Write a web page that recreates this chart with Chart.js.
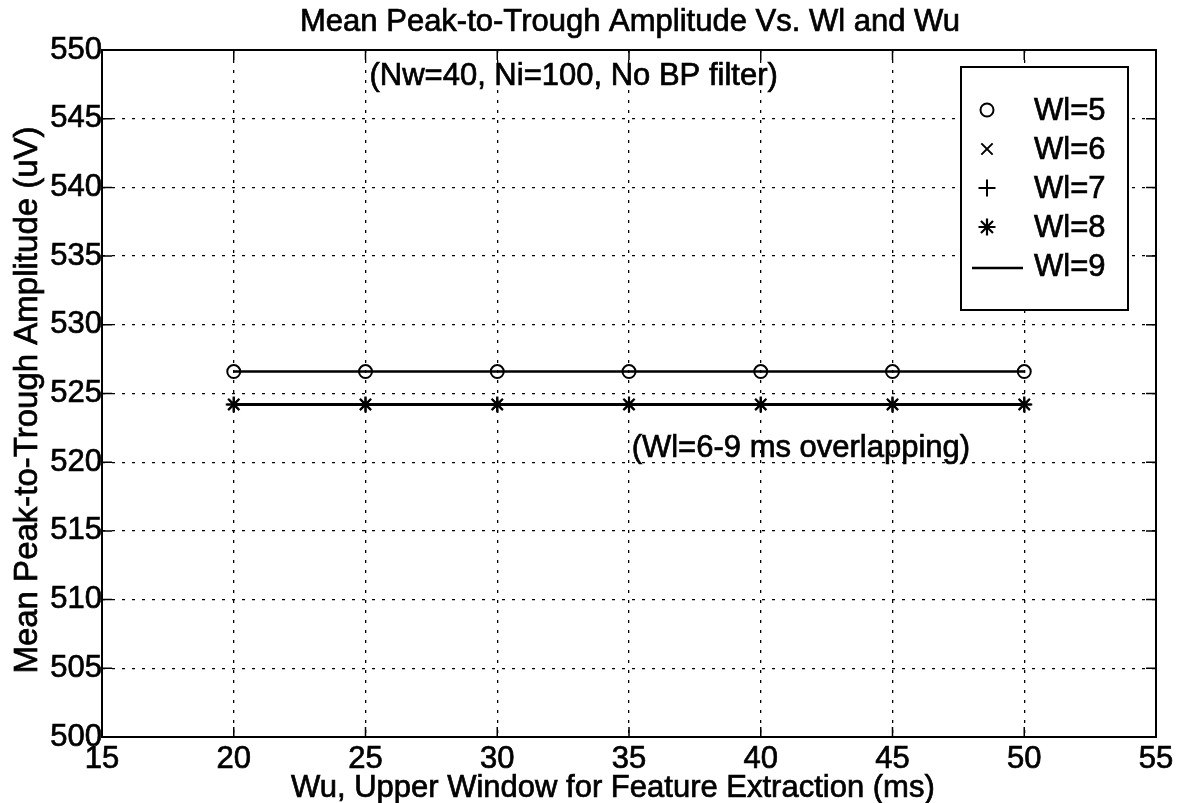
<!DOCTYPE html>
<html>
<head>
<meta charset="utf-8">
<script src="https://cdn.jsdelivr.net/npm/chart.js@4/dist/chart.umd.min.js"></script>
<style>
  body { margin: 0; background: #fff; }
  #wrap { width: 1186px; height: 803px; }
</style>
</head>
<body>
<div id="wrap"><canvas id="myChart" width="1186" height="803"></canvas></div>
<script>
// Wu values (ms) and mean peak-to-trough amplitude (uV) for each Wl
let wu = [20, 25, 30, 35, 40, 45, 50]
let wl5 = [526.6, 526.6, 526.6, 526.6, 526.6, 526.6, 526.6]
let wl6 = [524.2, 524.2, 524.2, 524.2, 524.2, 524.2, 524.2]
let wl7 = [524.2, 524.2, 524.2, 524.2, 524.2, 524.2, 524.2]
let wl8 = [524.2, 524.2, 524.2, 524.2, 524.2, 524.2, 524.2]
let wl9 = [524.2, 524.2, 524.2, 524.2, 524.2, 524.2, 524.2]

let xTicks = [15, 20, 25, 30, 35, 40, 45, 50, 55]
let yTicks = [500, 505, 510, 515, 520, 525, 530, 535, 540, 545, 550]

const FONT = '"Liberation Sans", Arial, Helvetica, sans-serif'
const INK = 0.7 // a little stroke so the text looks heavier

function pts(ys) {
    return wu.map((x, i) => ({ x: x, y: ys[i] }))
}

function serie(label, ys, style, r, bw) {
    return {
        label: label,
        data: pts(ys),
        borderColor: '#000',
        backgroundColor: 'rgba(0,0,0,0)',
        pointBorderColor: '#000',
        pointBackgroundColor: 'rgba(0,0,0,0)',
        borderWidth: 2.5,
        pointBorderWidth: bw,
        pointStyle: style,
        pointRadius: r,
        showLine: true,
        fill: false
    }
}

function txt(ctx, s, x, y) {
    ctx.fillText(s, x, y)
    ctx.lineWidth = INK
    ctx.strokeText(s, x, y)
}

// text, legend, box and inward ticks
let extras = {
    id: 'extras',
    afterDraw(chart) {
        let ctx = chart.ctx
        let a = chart.chartArea
        let sx = chart.scales.x, sy = chart.scales.y
        ctx.save()
        ctx.strokeStyle = '#000'
        ctx.fillStyle = '#000'

        // axes box
        ctx.lineWidth = 2
        ctx.strokeRect(a.left, a.top, a.right - a.left, a.bottom - a.top)

        // tick marks pointing inward, all four sides
        ctx.lineWidth = 1.5
        ctx.beginPath()
        xTicks.forEach(v => {
            let px = sx.getPixelForValue(v)
            ctx.moveTo(px, a.bottom); ctx.lineTo(px, a.bottom - 10)
            ctx.moveTo(px, a.top); ctx.lineTo(px, a.top + 10)
        })
        yTicks.forEach(v => {
            let py = sy.getPixelForValue(v)
            ctx.moveTo(a.left, py); ctx.lineTo(a.left + 10, py)
            ctx.moveTo(a.right, py); ctx.lineTo(a.right - 10, py)
        })
        ctx.stroke()

        // titles
        ctx.font = '31px ' + FONT
        ctx.textBaseline = 'alphabetic'
        ctx.textAlign = 'center'
        txt(ctx, 'Mean Peak-to-Trough Amplitude Vs. Wl and Wu', (a.left + a.right) / 2 + 1, 31)
        ctx.textAlign = 'left'
        txt(ctx, 'Wu, Upper Window for Feature Extraction (ms)', 291, 797)
        ctx.save()
        ctx.font = '33px ' + FONT
        ctx.translate(37, 400)
        ctx.rotate(-Math.PI / 2)
        ctx.textAlign = 'center'
        txt(ctx, 'Mean Peak-to-Trough Amplitude (uV)', 0, 0)
        ctx.restore()

        // notes placed in data units
        ctx.textAlign = 'left'
        ctx.textBaseline = 'middle'
        txt(ctx, '(Nw=40, Ni=100, No BP filter)', sx.getPixelForValue(25.15), sy.getPixelForValue(548.1))
        txt(ctx, '(Wl=6-9 ms overlapping)', sx.getPixelForValue(35.1), sy.getPixelForValue(521.0))

        // legend
        let lx = 961, ly = 67, lw = 167, lh = 243
        ctx.fillStyle = '#fff'
        ctx.fillRect(lx, ly, lw, lh)
        ctx.lineWidth = 2
        ctx.strokeRect(lx, ly, lw, lh)
        let big = { circle: 6.5, crossRot: 8, cross: 8.5, star: 8.5 }
        chart.data.datasets.forEach((ds, i) => {
            let yy = 110 + i * 39
            if (ds.pointRadius > 0) {
                ctx.fillStyle = 'rgba(0,0,0,0)'
                ctx.strokeStyle = '#000'
                ctx.lineWidth = ds.pointBorderWidth
                Chart.helpers.drawPoint(ctx, {
                    pointStyle: ds.pointStyle,
                    radius: big[ds.pointStyle],
                    borderWidth: ds.pointBorderWidth,
                    rotation: 0
                }, 987, yy)
            } else {
                ctx.lineWidth = 2.5
                ctx.beginPath()
                ctx.moveTo(972, yy + 2); ctx.lineTo(1023, yy + 2)
                ctx.stroke()
            }
            ctx.fillStyle = '#000'
            txt(ctx, ds.label, 1034, yy + 1)
        })
        ctx.restore()
    }
}

let grafico = new Chart('myChart', {
    type: 'scatter',
    data: {
        datasets: [
            serie('Wl=5', wl5, 'circle', 6.5, 2),
            serie('Wl=6', wl6, 'crossRot', 6.5, 2),
            serie('Wl=7', wl7, 'cross', 7, 2),
            serie('Wl=8', wl8, 'star', 8, 2.2),
            serie('Wl=9', wl9, 'line', 0, 2)
        ]
    },
    options: {
        responsive: false,
        animation: false,
        layout: { padding: { top: 50, right: 30, left: 0, bottom: 0 } },
        plugins: {
            legend: { display: false },
            tooltip: { enabled: false }
        },
        scales: {
            x: {
                type: 'linear',
                min: 15,
                max: 55,
                afterFit: s => { s.height = 66 },
                afterBuildTicks: s => { s.ticks = xTicks.map(v => ({ value: v })) },
                ticks: {
                    color: '#000',
                    padding: 4,
                    maxRotation: 0,
                    textStrokeColor: '#000',
                    textStrokeWidth: INK,
                    font: { family: FONT, size: 31 }
                },
                grid: { color: '#000', lineWidth: 1.3, drawTicks: false },
                border: { display: false, dash: [3, 7] }
            },
            y: {
                type: 'linear',
                min: 500,
                max: 550,
                afterFit: s => { s.width = 102 },
                afterBuildTicks: s => { s.ticks = yTicks.map(v => ({ value: v })) },
                ticks: {
                    color: '#000',
                    padding: 0,
                    textStrokeColor: '#000',
                    textStrokeWidth: INK,
                    font: { family: FONT, size: 31 }
                },
                grid: { color: '#000', lineWidth: 1.3, drawTicks: false },
                border: { display: false, dash: [3, 7] }
            }
        }
    },
    plugins: [extras]
})
</script>
</body>
</html>
